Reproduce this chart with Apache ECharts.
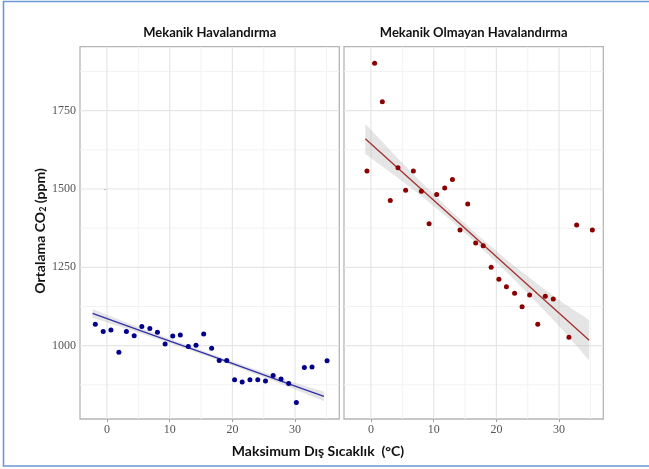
<!DOCTYPE html>
<html>
<head>
<meta charset="utf-8">
<script src="https://cdn.jsdelivr.net/npm/echarts@6/dist/echarts.min.js"></script>
<style>
html,body{margin:0;padding:0;background:#fff;}
#chart{width:649px;height:469px;}
</style>
</head>
<body>
<div id="chart"></div>
<script>
// ---- data ----
const panelTitles = ['Mekanik Havalandırma', 'Mekanik Olmayan Havalandırma'];
const xTickValues = [0, 10, 20, 30];
const yTickValues = [1000, 1250, 1500, 1750];
const xGridMajor = [0, 10, 20, 30];
const xGridMinor = [5, 15, 25, 35];
const yGridMajor = [1000, 1250, 1500, 1750];
const yGridMinor = [875, 1125, 1375, 1625, 1875];

const leftTemp = [-1.86, -0.6, 0.63, 1.9, 3.1, 4.34, 5.56, 6.84, 8.05, 9.27, 10.49, 11.7, 12.97, 14.2, 15.42, 16.69, 17.9, 19.1, 20.35, 21.56, 22.8, 24.05, 25.28, 26.5, 27.76, 28.98, 30.2, 31.48, 32.7, 35.1];
const leftCO2 = [1068, 1045, 1050, 979, 1045, 1032, 1061, 1055, 1043, 1005, 1031, 1034, 997, 1001, 1037, 992, 953, 953, 891, 884, 891, 891, 887, 905, 894, 879, 819, 930, 932, 952];

const rightTemp = [-0.64, 0.58, 1.81, 3.08, 4.31, 5.53, 6.76, 8.04, 9.27, 10.48, 11.76, 12.99, 14.2, 15.43, 16.7, 17.9, 19.17, 20.4, 21.6, 22.9, 24.1, 25.3, 26.6, 27.8, 29.07, 31.57, 32.8, 35.3];
const rightCO2 = [1557, 1901, 1778, 1463, 1568, 1496, 1557, 1493, 1389, 1482, 1503, 1530, 1369, 1452, 1328, 1319, 1250, 1212, 1188, 1167, 1124, 1162, 1068, 1158, 1149, 1027, 1385, 1369];

// fitted trend lines and confidence bands
const leftFitTemp = [-2.3, 3, 8, 16, 25, 30, 34.6];
const leftFit = [1103, 1065, 1029, 972, 907, 871, 838];
const leftFitLow = [1089, 1055, 1021, 966, 899, 860, 823];
const leftFitHigh = [1117, 1075, 1037, 978, 915, 882, 853];

const rightFitTemp = [-0.9, 4, 8, 12, 16, 22, 27, 31, 34.8];
const rightFit = [1660, 1572, 1500, 1428, 1356, 1248, 1158, 1086, 1017];
const rightFitLow = [1612, 1540, 1478, 1412, 1341, 1228, 1126, 1041, 952];
const rightFitHigh = [1708, 1604, 1522, 1444, 1371, 1268, 1190, 1131, 1082];

// ---- layout ----
const X_MIN = -4.3, X_MAX = 37.05, Y_MIN = 766, Y_MAX = 1954;
const panels = [
  {left: 80, color: '#00008b', lineColor: '#3030a8', temp: leftTemp, co2: leftCO2,
   fitT: leftFitTemp, fit: leftFit, lo: leftFitLow, hi: leftFitHigh},
  {left: 344, color: '#8b0000', lineColor: '#a33535', temp: rightTemp, co2: rightCO2,
   fitT: rightFitTemp, fit: rightFit, lo: rightFitLow, hi: rightFitHigh}
];
const PANEL_W = 259.3, PANEL_TOP = 46.7, PANEL_H = 372.3;

const chart = echarts.init(document.getElementById('chart'), null, {renderer: 'canvas'});

const grids = [], xAxes = [], yAxes = [], series = [];
panels.forEach((p, i) => {
  grids.push({left: p.left, top: PANEL_TOP, width: PANEL_W, height: PANEL_H,
    show: true, borderColor: '#b5b5b5', borderWidth: 1.3, backgroundColor: '#fff', containLabel: false});
  xAxes.push({type: 'value', gridIndex: i, min: X_MIN, max: X_MAX,
    axisLine: {show: false}, splitLine: {show: false},
    axisTick: {show: true, length: 3, customValues: xTickValues, lineStyle: {color: '#a0a0a0'}},
    axisLabel: {show: true, customValues: xTickValues, margin: 5, fontFamily: 'Liberation Serif', fontSize: 12, color: '#555',
      formatter: v => String(v)}
  });
  yAxes.push({type: 'value', gridIndex: i, min: Y_MIN, max: Y_MAX,
    axisLine: {show: false}, splitLine: {show: false},
    axisTick: {show: i === 0, length: 3, customValues: yTickValues, lineStyle: {color: '#a0a0a0'}},
    axisLabel: {show: i === 0, customValues: yTickValues, margin: 4, fontFamily: 'Liberation Serif', fontSize: 12, color: '#555',
      formatter: v => String(v)}
  });
  // grid lines + confidence band, drawn through the library's coordinate mapping
  series.push({
    type: 'custom', xAxisIndex: i, yAxisIndex: i, z: 2, silent: true,
    data: p.fitT.map((t, k) => [t, p.lo[k], p.hi[k]]),
    renderItem: function (params, api) {
      if (params.dataIndex !== 0) return null;
      const children = [];
      const vLine = (v, color, w) => {
        const a = api.coord([v, Y_MIN]), b = api.coord([v, Y_MAX]);
        children.push({type: 'line', shape: {x1: a[0], y1: a[1], x2: b[0], y2: b[1]}, style: {stroke: color, lineWidth: w}});
      };
      const hLine = (v, color, w) => {
        const a = api.coord([X_MIN, v]), b = api.coord([X_MAX, v]);
        children.push({type: 'line', shape: {x1: a[0], y1: a[1], x2: b[0], y2: b[1]}, style: {stroke: color, lineWidth: w}});
      };
      xGridMinor.forEach(v => vLine(v, '#f2f2f2', 1));
      yGridMinor.forEach(v => hLine(v, '#f2f2f2', 1));
      xGridMajor.forEach(v => vLine(v, '#e6e6e6', 1.2));
      yGridMajor.forEach(v => hLine(v, '#e6e6e6', 1.2));
      const upper = p.fitT.map((t, k) => api.coord([t, p.hi[k]]));
      const lower = p.fitT.map((t, k) => api.coord([t, p.lo[k]])).reverse();
      children.push({type: 'polygon', shape: {points: upper.concat(lower)},
        style: {fill: 'rgba(190,190,190,0.4)', stroke: null}});
      return {type: 'group', children: children};
    }
  });
  series.push({
    type: 'line', xAxisIndex: i, yAxisIndex: i, z: 3, silent: true, symbol: 'none',
    data: p.fitT.map((t, k) => [t, p.fit[k]]),
    lineStyle: {color: p.lineColor, width: 1.4}
  });
  series.push({
    type: 'scatter', xAxisIndex: i, yAxisIndex: i, z: 4, symbolSize: 5,
    data: p.temp.map((t, k) => [t, p.co2[k]]),
    itemStyle: {color: p.color, opacity: 1}
  });
});

chart.setOption({
  animation: false,
  backgroundColor: '#fff',
  grid: grids, xAxis: xAxes, yAxis: yAxes, series: series,
  graphic: [
    {type: 'rect', shape: {x: 3.5, y: 1.5, width: 700, height: 464.5}, silent: true,
     style: {fill: null, stroke: '#6b97d6', lineWidth: 1.6}, z: -1},
    {type: 'text', x: 209.7, y: 33, silent: true,
     style: {text: panelTitles[0], textAlign: 'center', textVerticalAlign: 'middle',
       font: 'bold 13px Lato', fill: '#111'}},
    {type: 'text', x: 473.7, y: 33, silent: true,
     style: {text: panelTitles[1], textAlign: 'center', textVerticalAlign: 'middle',
       font: 'bold 13px Lato', fill: '#111'}},
    {type: 'text', x: 318, y: 451, silent: true,
     style: {text: 'Maksimum Dış Sıcaklık  (°C)', textAlign: 'center', textVerticalAlign: 'middle',
       font: 'bold 14px Lato', fill: '#111'}},
    {type: 'text', x: 40, y: 231, rotation: Math.PI / 2, silent: true,
     style: {text: '{a|Ortalama CO}{s|2}{a| (ppm)}', textAlign: 'center', textVerticalAlign: 'middle',
       rich: {a: {fontFamily: 'Lato', fontWeight: 'bold', fontSize: 14, fill: '#111', color: '#111'},
              s: {fontFamily: 'Lato', fontWeight: 'bold', fontSize: 9, fill: '#111', color: '#111', verticalAlign: 'bottom', padding: [6, 0, 0, 0]}}}}
  ]
});
</script>
</body>
</html>
